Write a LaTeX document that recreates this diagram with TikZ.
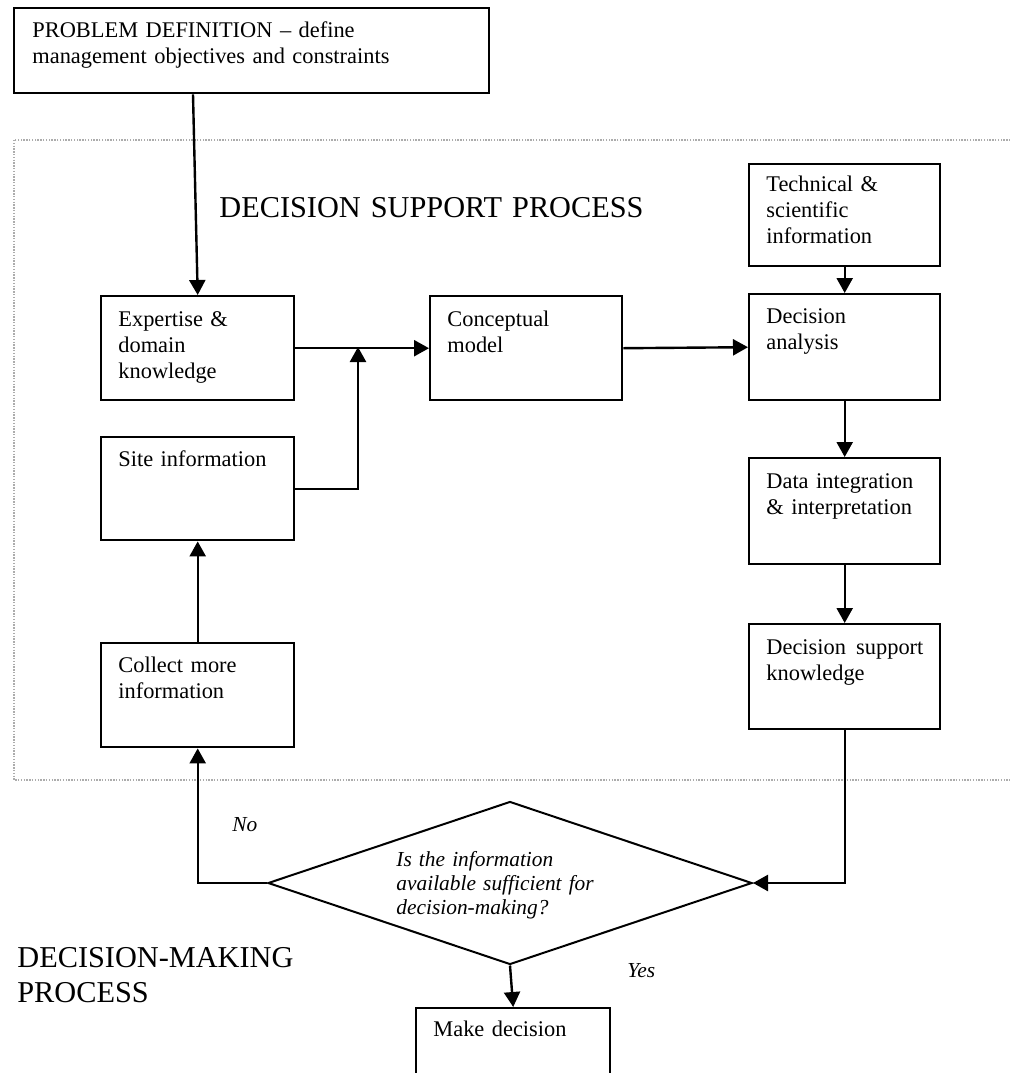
\documentclass[tikz,border=0pt]{standalone}
\usepackage{fontspec}
\setmainfont{Liberation Serif}
\usetikzlibrary{arrows.meta,shapes.geometric}

\tikzset{
  stepbox/.style={draw, line width=1.2pt, anchor=north west, inner sep=0pt, minimum width=#1},
  stepbox/.default=96.5pt,
  boxtext/.style={anchor=base west, inner sep=0pt, align=left, text width=#1,
    font=\fontsize{11.2}{13}\selectfont},
  boxtext/.default=78.5pt,
  flow/.style={line width=1.2pt, -{Triangle[length=7.5pt,width=8pt]}},
  title/.style={anchor=base west, inner sep=0pt, align=left, text width=200pt,
    font=\fontsize{15.15}{17.5}\selectfont},
  remark/.style={anchor=base west, inner sep=0pt, align=left,
    font=\fontsize{10.7}{12}\selectfont\itshape},
  region/.style={draw=gray!65, line width=0.8pt, dash pattern=on 0.7pt off 0.7pt}
}

\begin{document}
\begin{tikzpicture}[x=0.5pt, y=-0.5pt]
  \clip (0,0) rectangle (1010,1073);
  \fill[white] (0,0) rectangle (1010,1073);

  % decision support region
  \draw[region] (14,140) rectangle (1030,780);

  % problem definition
  \node[stepbox=237.5pt, minimum height=42.5pt] (prob) at (13,7) {};
  \node[boxtext=220pt] (prob-t) at (32,37) {PROBLEM DEFINITION -- define\\management objectives and constraints};

  % left column
  \node[stepbox, minimum height=52pt] (exp) at (100,295) {};
  \node[boxtext] (exp-t) at (118,326) {Expertise \&\\domain\\knowledge};
  \node[stepbox, minimum height=51.5pt] (site) at (100,436) {};
  \node[boxtext] (site-t) at (118,466) {Site information};
  \node[stepbox, minimum height=52pt] (coll) at (100,642) {};
  \node[boxtext] (coll-t) at (118,672) {Collect more\\information};

  % middle
  \node[stepbox=96pt, minimum height=52pt] (conc) at (429,295) {};
  \node[boxtext] (conc-t) at (447,326) {Conceptual\\model};

  % right column
  \node[stepbox=95.5pt, minimum height=51pt] (tech) at (748,163) {};
  \node[boxtext] (tech-t) at (766,191) {Technical \&\\scientific\\information};
  \node[stepbox=95.5pt, minimum height=53pt] (dana) at (748,293) {};
  \node[boxtext] (dana-t) at (766,323) {Decision\\analysis};
  \node[stepbox=95.5pt, minimum height=53pt] (dint) at (748,457) {};
  \node[boxtext] (dint-t) at (766,488) {Data integration\\\& interpretation};
  \node[stepbox=95.5pt, minimum height=52.5pt] (dsk) at (748,623) {};
  \node[boxtext] (dsk-t) at (766,654) {Decision\hfill support\\knowledge};

  % decision
  \node[draw, diamond, line width=1pt, inner sep=0pt, minimum width=242pt, minimum height=81.5pt] (dec) at (510,883) {};
  \node[remark, text width=110pt] (q) at (396,866) {Is the information\\available sufficient for\\decision-making?};
  \node[stepbox=97pt, minimum height=50pt] (make) at (415,1007) {};
  \node[boxtext] (make-t) at (433,1036) {Make decision};

  % headings
  \node[title, text width=260pt] (dsp) at (219,217) {DECISION SUPPORT PROCESS};
  \node[title] (dmp) at (17,967) {DECISION-MAKING\\PROCESS};

  % branch labels
  \node[remark] (no) at (232,831) {No};
  \node[remark] (yes) at (627,977) {Yes};

  % connectors
  \coordinate (join) at (358,347);
  \draw[flow] ([xshift=90pt]prob.south west) -- (exp.north);
  \draw[flow] (exp.east) -- (conc.west);
  \draw[flow] (site.east) -| (join);
  \draw[flow] (conc.east) -- (dana.west);
  \draw[flow] (tech.south) -- (dana.north);
  \draw[flow] (dana.south) -- (dint.north);
  \draw[flow] (dint.south) -- (dsk.north);
  \draw[flow] (dsk.south) |- (dec.east);
  \draw[flow] (dec.west) -| (coll.south);
  \draw[flow] (coll.north) -- (site.south);
  \draw[flow] (dec.south) -- (make.north);
\end{tikzpicture}
\end{document}
